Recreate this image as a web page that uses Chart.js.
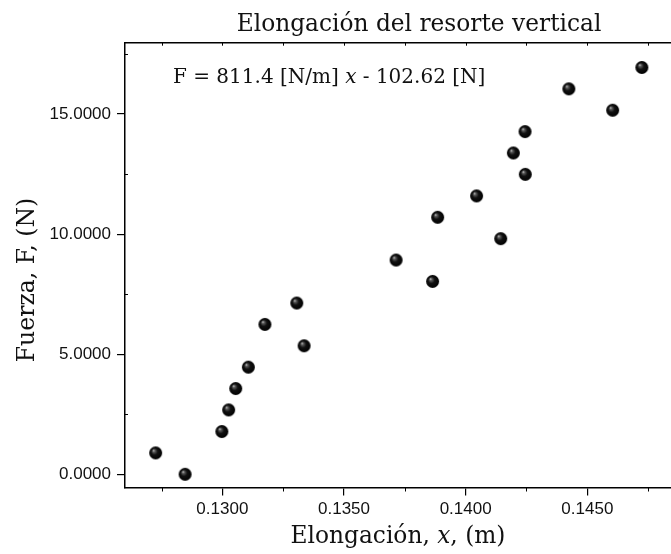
<!DOCTYPE html>
<html>
<head>
<meta charset="utf-8">
<script src="https://cdn.jsdelivr.net/npm/chart.js@4.4.1/dist/chart.umd.min.js"></script>
<style>
  html, body { margin: 0; padding: 0; background: #fff; overflow: hidden; }
  #wrap { position: relative; width: 760px; height: 554px; }
</style>
</head>
<body>
<div id="wrap"><canvas id="chart" width="760" height="554"></canvas></div>
<script>
// elongación (m) y fuerza (N)
const elongation = [0.12726, 0.12847, 0.12998, 0.13026, 0.13055, 0.13107, 0.13175,
  0.13306, 0.13336, 0.13714, 0.13864, 0.13885, 0.14045, 0.14144, 0.14196,
  0.14245, 0.14244, 0.14424, 0.14604, 0.14724];
const force = [0.89, 0.00, 1.78, 2.68, 3.57, 4.46, 6.24,
  7.13, 5.35, 8.92, 8.03, 10.70, 11.59, 9.81, 13.38,
  12.49, 14.27, 16.05, 15.16, 16.94];

const xTicks = [0.1300, 0.1350, 0.1400, 0.1450];
const xMinorTicks = [0.1275, 0.1325, 0.1375, 0.1425, 0.1475];
const yTicks = [0, 5, 10, 15];
const yMinorTicks = [2.5, 7.5, 12.5, 17.5];

const titleText = 'Elongación del resorte vertical';
const fitText = ['F = 811.4 [N/m] ', 'x', ' - 102.62 [N]'];
const xTitle = ['Elongación, ', 'x', ', (m)'];
const yTitle = 'Fuerza, F, (N)';

const serif = '"DejaVu Serif", serif';

// bolita negra con brillo
function makeBall(r) {
  const c = document.createElement('canvas');
  c.width = c.height = Math.ceil(r * 2 + 2);
  const g = c.getContext('2d');
  const cx = c.width / 2, cy = c.height / 2;
  const grad = g.createRadialGradient(cx - r * 0.35, cy - r * 0.4, 0, cx, cy, r);
  grad.addColorStop(0, '#d8d8d8');
  grad.addColorStop(0.2, '#5a5a5a');
  grad.addColorStop(0.5, '#111');
  grad.addColorStop(1, '#000');
  g.fillStyle = grad;
  g.beginPath();
  g.arc(cx, cy, r, 0, Math.PI * 2);
  g.fill();
  return c;
}

function drawParts(ctx, parts, x, y, size) {
  parts.forEach((p, i) => {
    ctx.font = (i === 1 ? 'italic ' : '') + size + 'px ' + serif;
    ctx.fillText(p, x, y);
    x += ctx.measureText(p).width;
  });
}

function partsWidth(ctx, parts, size) {
  let w = 0;
  parts.forEach((p, i) => {
    ctx.font = (i === 1 ? 'italic ' : '') + size + 'px ' + serif;
    w += ctx.measureText(p).width;
  });
  return w;
}

const decorations = {
  id: 'decorations',
  afterDraw(chart) {
    const ctx = chart.ctx;
    const area = chart.chartArea;
    const xs = chart.scales.x;
    const ys = chart.scales.y;
    ctx.save();
    ctx.strokeStyle = '#000';
    ctx.lineWidth = 1.5;

    // borde superior
    ctx.beginPath();
    ctx.moveTo(area.left - 0.75, area.top);
    ctx.lineTo(area.right, area.top);
    ctx.stroke();

    ctx.lineWidth = 1;
    ctx.beginPath();
    xMinorTicks.forEach(v => {
      const px = Math.round(xs.getPixelForValue(v)) + 0.5;
      ctx.moveTo(px, area.bottom);
      ctx.lineTo(px, area.bottom + 4);
    });
    xMinorTicks.concat(xTicks).forEach(v => {
      const px = Math.round(xs.getPixelForValue(v)) + 0.5;
      ctx.moveTo(px, area.top);
      ctx.lineTo(px, area.top + 3);
    });
    yMinorTicks.forEach(v => {
      const py = Math.round(ys.getPixelForValue(v)) + 0.5;
      ctx.moveTo(area.left, py);
      ctx.lineTo(area.left + 3, py);
    });
    ctx.stroke();

    ctx.fillStyle = '#111';
    ctx.textBaseline = 'alphabetic';
    ctx.textAlign = 'left';

    ctx.font = '23.3px ' + serif;
    const tw = ctx.measureText(titleText).width;
    ctx.fillText(titleText, 419 - tw / 2, 31);

    drawParts(ctx, fitText, 173, 83, 20);

    const xw = partsWidth(ctx, xTitle, 23.3);
    drawParts(ctx, xTitle, 398 - xw / 2, 543, 23.3);

    ctx.translate(34, 280);
    ctx.rotate(-Math.PI / 2);
    ctx.font = '23.5px ' + serif;
    ctx.textAlign = 'center';
    ctx.fillText(yTitle, 0, 0);
    ctx.restore();
  }
};

const ball = makeBall(6.5);
const points = elongation.map((x, i) => ({ x: x, y: force[i] }));

new Chart(document.getElementById('chart'), {
  type: 'scatter',
  data: {
    datasets: [{
      data: points,
      pointStyle: ball,
      pointRadius: 6.5,
      pointHoverRadius: 6.5
    }]
  },
  options: {
    responsive: false,
    animation: false,
    devicePixelRatio: 1,
    layout: { padding: { top: 42.7, right: 51, left: 0, bottom: 0 } },
    plugins: {
      legend: { display: false },
      tooltip: { enabled: false }
    },
    scales: {
      x: {
        type: 'linear',
        min: 0.126,
        max: 0.150,
        afterFit: s => { s.height = 554 - 487.5; },
        afterBuildTicks: s => { s.ticks = xTicks.map(v => ({ value: v })); },
        border: { display: true, color: '#000', width: 1.5 },
        grid: { display: true, drawOnChartArea: false, drawTicks: true, tickLength: 8, color: '#000', lineWidth: 1.2 },
        ticks: {
          padding: 4,
          color: '#111',
          font: { family: '"Liberation Sans", Arial, sans-serif', size: 17 },
          callback: v => v.toFixed(4)
        }
      },
      y: {
        min: -0.55,
        max: 17.97,
        afterFit: s => { s.width = 125; },
        afterBuildTicks: s => { s.ticks = yTicks.map(v => ({ value: v })); },
        border: { display: true, color: '#000', width: 1.5 },
        grid: { display: true, drawOnChartArea: false, drawTicks: true, tickLength: 8, color: '#000', lineWidth: 1.2 },
        ticks: {
          padding: 6,
          color: '#111',
          font: { family: '"Liberation Sans", Arial, sans-serif', size: 17 },
          callback: v => v.toFixed(4)
        }
      }
    }
  },
  plugins: [decorations]
});
</script>
</body>
</html>
